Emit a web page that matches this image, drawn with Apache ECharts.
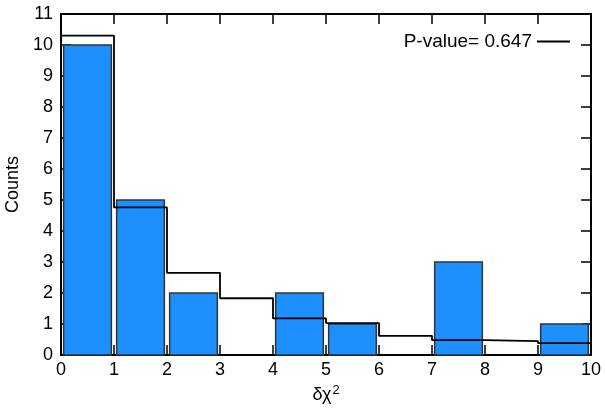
<!DOCTYPE html>
<html><head><meta charset="utf-8">
<script src="https://cdn.jsdelivr.net/npm/echarts@6/dist/echarts.min.js"></script>
<style>html,body{margin:0;padding:0;background:#fff}#c{width:605px;height:409px}</style>
</head><body><div id="c"></div>
<script>
const binEdges = [0,1,2,3,4,5,6,7,8,9,10];
const counts = [10,5,2,0,2,1,0,3,0,1];
const expected = [10.3,4.76,2.65,1.83,1.18,1.03,0.62,0.48,0.45,0.38];
const xTicks = [0,1,2,3,4,5,6,7,8,9,10];
const yTicks = [0,1,2,3,4,5,6,7,8,9,10,11];
const legendLabel = 'P-value= 0.647';

const barData = counts.map((c,i)=>[binEdges[i], binEdges[i+1], c]);
const stepData = [[binEdges[0],0]].concat(expected.map((v,i)=>[binEdges[i], v])).concat([[binEdges[binEdges.length-1], expected[expected.length-1]]]);

const font = '"Liberation Sans", Arial, sans-serif';
const fs = 18;
function mkAxis(extra){
  return Object.assign({
    axisLine:{show:true, onZero:false, lineStyle:{color:'#000', width:2}},
    axisTick:{show:true, inside:true, length:10, lineStyle:{color:'#000', width:1.5}},
    splitLine:{show:false}
  }, extra);
}
const chart = echarts.init(document.getElementById('c'), null, {renderer:'canvas'});
chart.setOption({
  animation:false,
  textStyle:{fontFamily:font, fontSize:fs},
  grid:{left:61, right:14, top:14, bottom:54, containLabel:false, outerBoundsMode:'none'},
  legend:{
    data:[{name:legendLabel}], right:30, top:27, align:'right',
    itemWidth:33, itemHeight:2, icon:'rect',
    textStyle:{fontSize:19, color:'#000', fontFamily:font},
    itemStyle:{color:'#000'}
  },
  xAxis:[
    mkAxis({type:'value', min:0, max:10, interval:1, position:'bottom',
      name:'{a|δχ}{s|2}', nameLocation:'middle', nameGap:29,
      nameTextStyle:{rich:{a:{fontSize:fs, color:'#000', fontFamily:font}, s:{fontSize:13, color:'#000', verticalAlign:'top', padding:[0,0,10,1], fontFamily:font}}},
      axisLabel:{fontSize:fs, color:'#000', margin:6, fontFamily:font, formatter:v=>xTicks.includes(v)?String(v):''}}),
    mkAxis({type:'value', min:0, max:10, interval:1, position:'top', axisLabel:{show:false}})
  ],
  yAxis:[
    mkAxis({type:'value', min:0, max:11, interval:1, position:'left',
      name:'Counts', nameLocation:'middle', nameGap:33,
      nameTextStyle:{fontSize:fs, color:'#000', fontFamily:font},
      axisLabel:{fontSize:fs, color:'#000', margin:8, fontFamily:font, formatter:v=>yTicks.includes(v)?String(v):''}}),
    mkAxis({type:'value', min:0, max:11, interval:1, position:'right', axisLabel:{show:false}})
  ],
  series:[
    {
      type:'custom', name:'counts', xAxisIndex:0, yAxisIndex:0, z:2,
      data:barData,
      renderItem:function(params, api){
        const x0 = api.value(0), x1 = api.value(1), y = api.value(2);
        if (y<=0) return null;
        const w = x1-x0;
        const p0 = api.coord([x0+0.05*w, y]);
        const p1 = api.coord([x1-0.05*w, 0]);
        return {type:'rect', shape:{x:p0[0], y:p0[1], width:p1[0]-p0[0], height:p1[1]-p0[1]},
          style:{fill:'#1e8fff', stroke:'#333', lineWidth:1.5}};
      }
    },
    {
      type:'line', name:legendLabel, xAxisIndex:0, yAxisIndex:0, z:3,
      data:stepData, step:'end', symbol:'none', showSymbol:false,
      lineStyle:{color:'#000', width:1.8}, itemStyle:{color:'#000'}
    }
  ]
});
</script></body></html>
